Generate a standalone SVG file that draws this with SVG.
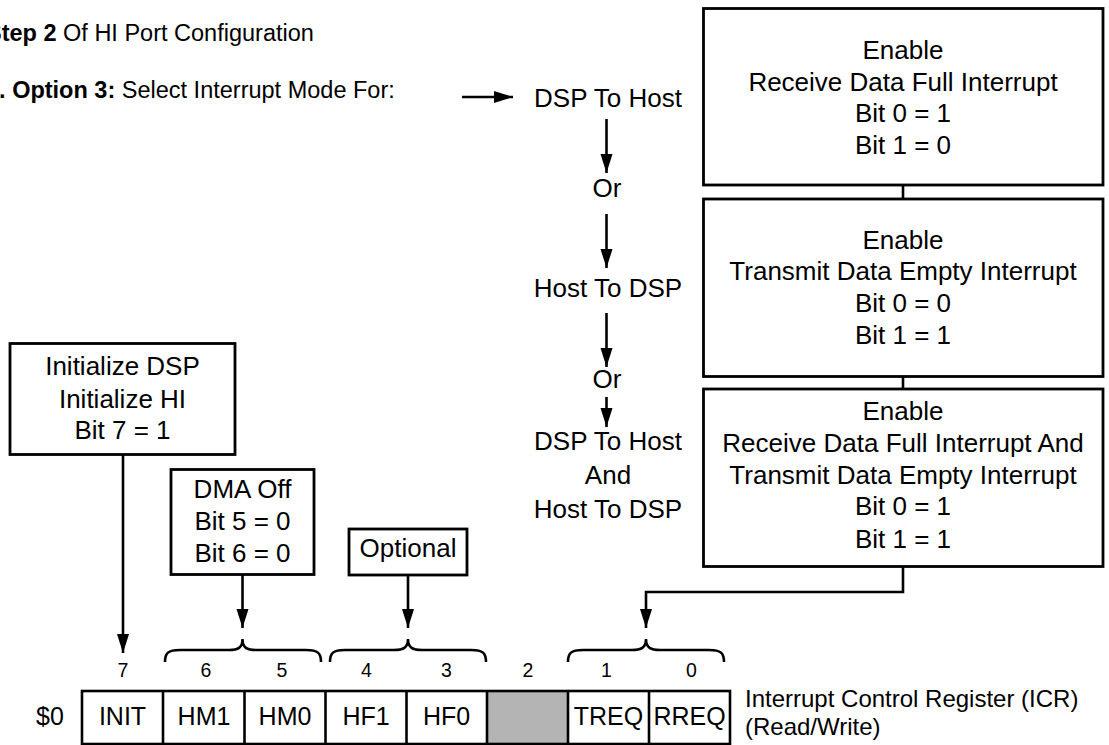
<svg xmlns="http://www.w3.org/2000/svg" width="1109" height="745" viewBox="0 0 1109 745">
<style>
  text { font-family: "Liberation Sans", Arial, sans-serif; fill: #000; }
  .t { font-size: 26px; text-anchor: middle; }
  .h { font-size: 23.5px; }
  .b { font-weight: bold; }
  .n { font-size: 19.5px; text-anchor: middle; }
  .c { font-size: 25px; text-anchor: middle; }
  .box { fill: #fff; stroke: #000; stroke-width: 2.8; }
  .ln { fill: none; stroke: #000; stroke-width: 2.6; }
  .arr { fill: none; stroke: #000; stroke-width: 2.6; marker-end: url(#ah); }
</style>
<defs>
  <marker id="ah" markerUnits="userSpaceOnUse" markerWidth="20" markerHeight="13" refX="19" refY="6" orient="auto">
    <path d="M0,0 L19,6 L0,12 z" fill="#000"/>
  </marker>
</defs>
<rect width="1109" height="745" fill="#fff"/>

<g id="title">
  <text class="h" x="-14" y="41"><tspan class="b">Step 2</tspan> Of HI Port Configuration</text>
  <text class="h" x="-14" y="98"><tspan class="b">1. Option 3:</tspan> Select Interrupt Mode For:</text>
</g>

<g id="modes">
  <text class="t" x="608" y="107">DSP To Host</text>
  <text class="t" x="607" y="197">Or</text>
  <text class="t" x="608" y="297">Host To DSP</text>
  <text class="t" x="607" y="388">Or</text>
  <text class="t" x="608" y="450">DSP To Host</text>
  <text class="t" x="608" y="484">And</text>
  <text class="t" x="608" y="518">Host To DSP</text>
</g>

<g id="box-rdf">
  <rect class="box" x="703.5" y="8.5" width="399.5" height="176.5"/>
  <text class="t" x="903" y="59">Enable</text>
  <text class="t" x="903" y="91">Receive Data Full Interrupt</text>
  <text class="t" x="903" y="122">Bit 0 = 1</text>
  <text class="t" x="903" y="154">Bit 1 = 0</text>
</g>

<g id="box-tde">
  <rect class="box" x="703.5" y="199" width="399.5" height="177.5"/>
  <text class="t" x="903" y="249">Enable</text>
  <text class="t" x="903" y="280">Transmit Data Empty Interrupt</text>
  <text class="t" x="903" y="312">Bit 0 = 0</text>
  <text class="t" x="903" y="344">Bit 1 = 1</text>
</g>

<g id="box-both">
  <rect class="box" x="703.5" y="389" width="399.5" height="177.5"/>
  <text class="t" x="903" y="420">Enable</text>
  <text class="t" x="903" y="452">Receive Data Full Interrupt And</text>
  <text class="t" x="903" y="484">Transmit Data Empty Interrupt</text>
  <text class="t" x="903" y="515">Bit 0 = 1</text>
  <text class="t" x="903" y="548">Bit 1 = 1</text>
</g>

<g id="box-init">
  <rect class="box" x="10" y="343.5" width="225" height="111"/>
  <text class="t" x="122.5" y="375">Initialize DSP</text>
  <text class="t" x="122.5" y="407.5">Initialize HI</text>
  <text class="t" x="122.5" y="439">Bit 7 = 1</text>
</g>

<g id="box-dma">
  <rect class="box" x="171" y="469.5" width="143" height="105"/>
  <text class="t" x="242.5" y="498">DMA Off</text>
  <text class="t" x="242.5" y="530">Bit 5 = 0</text>
  <text class="t" x="242.5" y="562">Bit 6 = 0</text>
</g>

<g id="box-optional">
  <rect class="box" x="349" y="529" width="118" height="46"/>
  <text class="t" x="408" y="557">Optional</text>
</g>

<g id="connectors">
  <line class="arr" x1="462" y1="97" x2="513" y2="97"/>
  <line class="arr" x1="606.5" y1="119" x2="606.5" y2="173"/>
  <line class="arr" x1="606.5" y1="214" x2="606.5" y2="268"/>
  <line class="arr" x1="606.5" y1="313" x2="606.5" y2="367"/>
  <line class="arr" x1="606.5" y1="397" x2="606.5" y2="427"/>
  <line class="ln" x1="903" y1="185" x2="903" y2="199"/>
  <line class="ln" x1="903" y1="376.5" x2="903" y2="389"/>
  <polyline class="arr" points="903,566.5 903,592 646,592 646,628"/>
  <line class="arr" x1="123" y1="454.5" x2="123" y2="653"/>
  <line class="arr" x1="242.5" y1="574.5" x2="242.5" y2="628"/>
  <line class="arr" x1="408" y1="575" x2="408" y2="628"/>
  <path class="ln" d="M165,662 C165,653 168,650 180,650 L229,650 C238,650 242.5,648 242.5,639 C242.5,648 247,650 256,650 L306,650 C318,650 321,653 321,662"/>
  <path class="ln" d="M330,662 C330,653 333,650 345,650 L394,650 C403,650 408,648 408,639 C408,648 413,650 422,650 L471,650 C483,650 486,653 486,662"/>
  <path class="ln" d="M568,662 C568,653 571,650 583,650 L632,650 C641,650 646,648 646,639 C646,648 651,650 660,650 L709,650 C721,650 724,653 724,662"/>
</g>

<g id="register">
  <text class="c" x="50" y="725">$0</text>
  <rect x="487" y="691" width="81" height="53" fill="#b4b4b4"/>
  <rect class="ln" x="82" y="691" width="648" height="53"/>
  <line class="ln" x1="163" y1="691" x2="163" y2="744"/>
  <line class="ln" x1="244.5" y1="691" x2="244.5" y2="744"/>
  <line class="ln" x1="325.5" y1="691" x2="325.5" y2="744"/>
  <line class="ln" x1="406.5" y1="691" x2="406.5" y2="744"/>
  <line class="ln" x1="487" y1="691" x2="487" y2="744"/>
  <line class="ln" x1="568" y1="691" x2="568" y2="744"/>
  <line class="ln" x1="649" y1="691" x2="649" y2="744"/>
  <text class="c" x="122.5" y="725">INIT</text>
  <text class="c" x="204" y="725">HM1</text>
  <text class="c" x="285" y="725">HM0</text>
  <text class="c" x="366" y="725">HF1</text>
  <text class="c" x="446.5" y="725">HF0</text>
  <text class="c" x="608.5" y="725">TREQ</text>
  <text class="c" x="689.5" y="725">RREQ</text>
  <text class="n" x="123" y="677">7</text>
  <text class="n" x="206" y="677">6</text>
  <text class="n" x="282" y="677">5</text>
  <text class="n" x="366.5" y="677">4</text>
  <text class="n" x="446.5" y="677">3</text>
  <text class="n" x="528" y="677">2</text>
  <text class="n" x="606.5" y="677">1</text>
  <text class="n" x="691.5" y="677">0</text>
  <text style="font-size:24px" x="745" y="707">Interrupt Control Register (ICR)</text>
  <text style="font-size:24px" x="745" y="735">(Read/Write)</text>
</g>
</svg>
